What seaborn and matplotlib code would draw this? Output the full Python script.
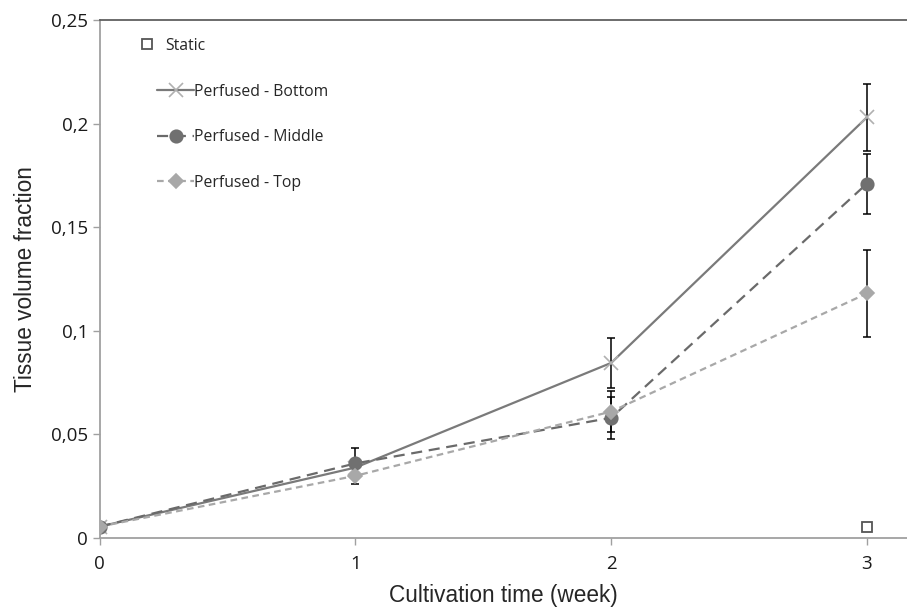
import numpy as np
import pandas as pd
import seaborn as sns
from matplotlib import pyplot as plt
from matplotlib.ticker import FuncFormatter

# valori
weeks = [0, 1, 2, 3]
bottom = [0.0055, 0.034, 0.0845, 0.203]
bottom_err = [0.0, 0.0, 0.012, 0.016]
middle = [0.0055, 0.036, 0.058, 0.171]
middle_err = [0.0, 0.0075, 0.010, 0.0145]
top = [0.0055, 0.030, 0.061, 0.118]
top_err = [0.0, 0.004, 0.010, 0.021]
static_week = [3]
static_val = [0.0055]

sns.set_style("white")
plt.rcParams['font.family'] = ['Open Sans', 'DejaVu Sans']

df = pd.DataFrame({
    'week': weeks * 3,
    'frac': bottom + middle + top,
    'serie': ['Perfused - Bottom'] * 4 + ['Perfused - Middle'] * 4 + ['Perfused - Top'] * 4,
})

fig = plt.figure(figsize=(9.07, 6.09), dpi=100)
ax = fig.add_axes([0.110, 0.1166, 0.89, 0.8506])

# barre d'errore prima, cosi i marker stanno sopra
for vals, errs in [(bottom, bottom_err), (middle, middle_err), (top, top_err)]:
    e = np.array(errs)
    ax.errorbar(weeks, vals, yerr=e, fmt='none', ecolor='black', elinewidth=1.1,
                capsize=3, capthick=1.1, zorder=2)

static_h, = ax.plot(static_week, static_val, linestyle='none', marker='s', markersize=7,
                    markerfacecolor='white', markeredgecolor='#555555', markeredgewidth=1.3,
                    label='Static', zorder=4)

styles = {
    'Perfused - Bottom': dict(color='#7a7a7a', ls='-', marker='x', mc='#b0b0b0', ms=10),
    'Perfused - Middle': dict(color='#6a6a6a', ls=(0, (5, 3)), marker='o', mc='#707070', ms=9),
    'Perfused - Top': dict(color='#a8a8a8', ls=(0, (3, 2)), marker='D', mc='#a8a8a8', ms=7),
}
for name, st in styles.items():
    sub = df[df['serie'] == name]
    sns.lineplot(data=sub, x='week', y='frac', ax=ax, color=st['color'], linestyle=st['ls'],
                 linewidth=1.6, marker=st['marker'], markersize=st['ms'],
                 markerfacecolor=st['mc'], markeredgecolor=st['mc'], markeredgewidth=1.2,
                 label=name, zorder=3)

ax.set_xlim(0, 3.157)
ax.set_ylim(0, 0.25)
ax.set_xticks([0, 1, 2, 3])
ax.set_yticks([0, 0.05, 0.1, 0.15, 0.2, 0.25])
ax.yaxis.set_major_formatter(FuncFormatter(lambda v, p: ('%g' % round(v, 3)).replace('.', ',')))
ax.tick_params(axis='both', direction='out', length=5, width=1, color='#a0a0a0',
               labelsize=13.5, labelcolor='#1a1a1a', bottom=True, left=True)
ax.tick_params(axis='x', pad=7)
for s in ['left', 'bottom']:
    ax.spines[s].set_color('#a0a0a0')
    ax.spines[s].set_linewidth(1.3)
ax.spines['top'].set_color('#606060')
ax.spines['top'].set_linewidth(1.3)
ax.spines['right'].set_visible(False)

ax.set_xlabel('Cultivation time (week)', fontsize=16.3, family=['Liberation Sans', 'DejaVu Sans'],
              labelpad=8)
ax.set_ylabel('Tissue volume fraction', fontsize=16.3, family=['Liberation Sans', 'DejaVu Sans'],
              labelpad=10)

# legenda in due pezzi (Static ha il marker spostato come in Excel)
handles, labels = ax.get_legend_handles_labels()
perf = [(h, l) for h, l in zip(handles, labels) if l != 'Static']
leg1 = ax.legend([static_h], ['Static'], loc='upper left', bbox_to_anchor=(0.031, 0.993),
                 frameon=False, fontsize=11.3, handlelength=1.0, handletextpad=0.7)
ax.add_artist(leg1)
ax.legend([p[0] for p in perf], [p[1] for p in perf], loc='upper left',
          bbox_to_anchor=(0.054, 0.904), frameon=False, fontsize=11.3,
          labelspacing=1.88, handlelength=2.3, handletextpad=0.05)

fig.savefig('out.png', dpi=100)
